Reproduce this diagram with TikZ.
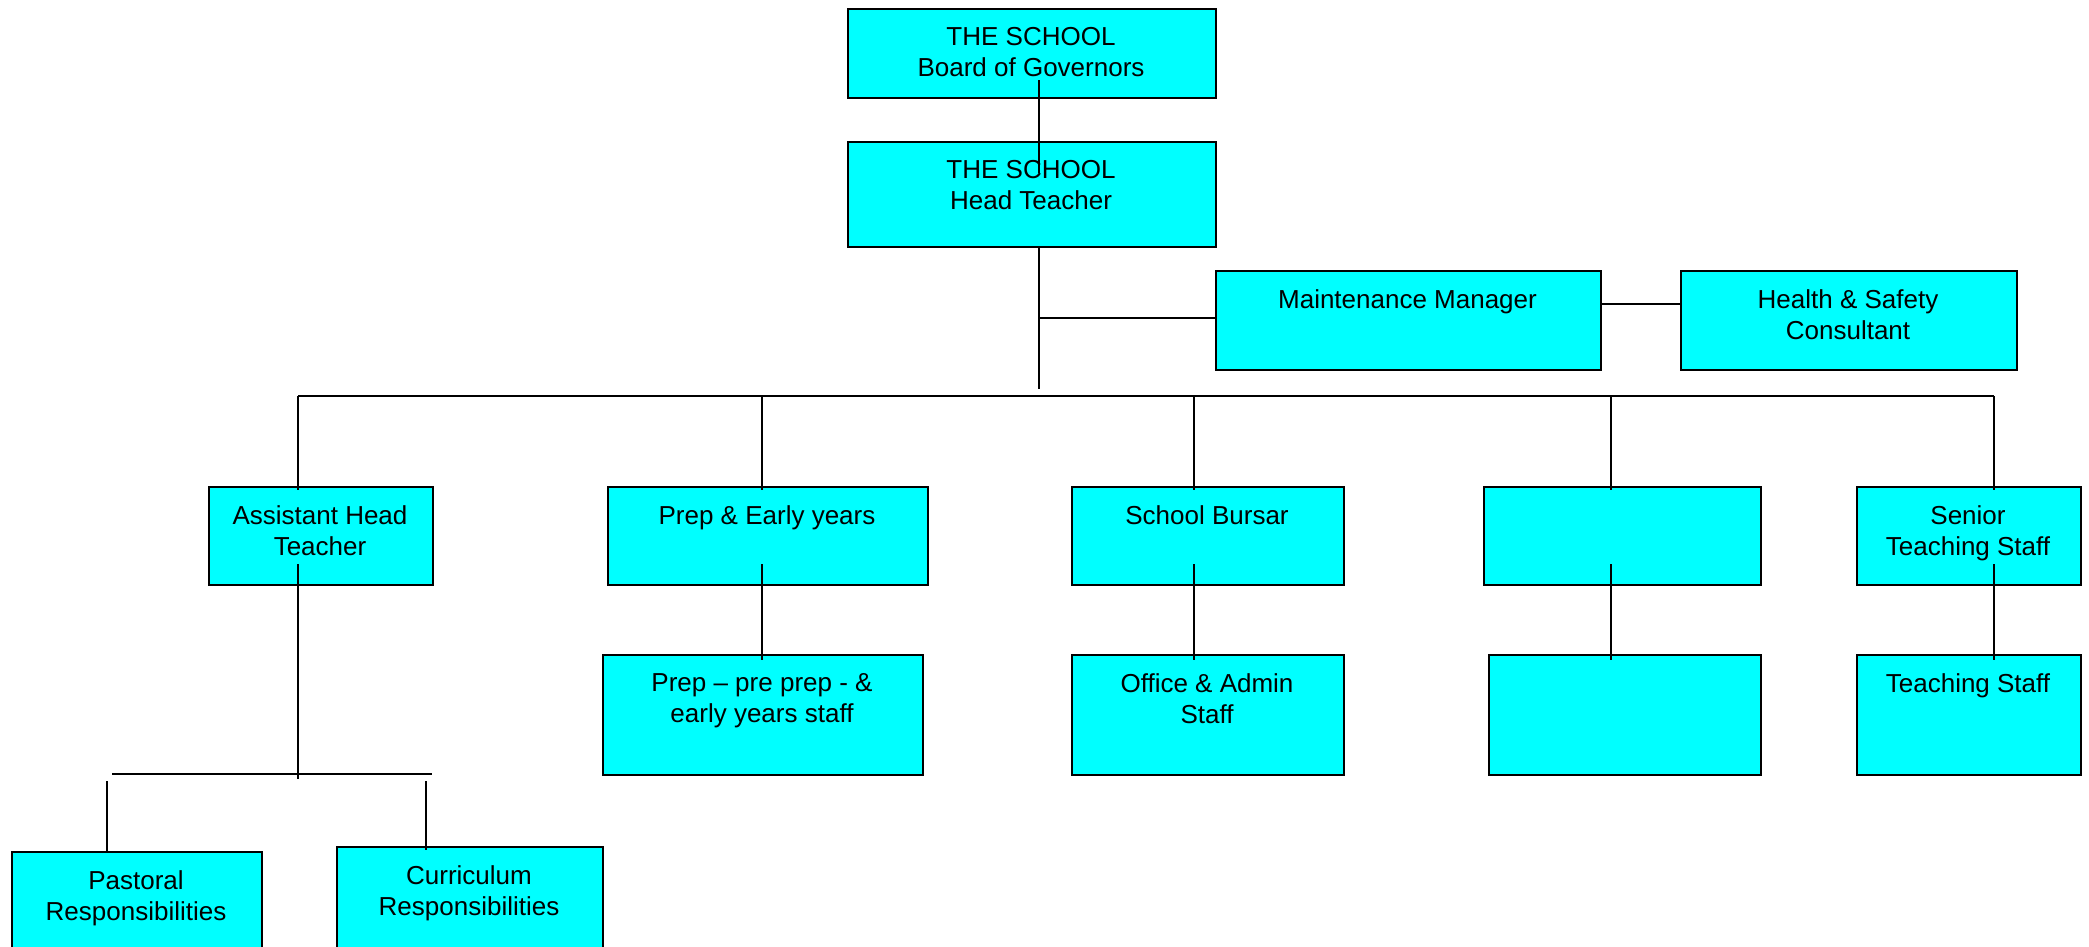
\documentclass[tikz,border=0pt]{standalone}
\usepackage{fontspec}
\setmainfont{Liberation Sans}
\definecolor{aqua}{RGB}{0,255,255}
\begin{document}
\begin{tikzpicture}[x=1pt,y=-1pt,
  box/.style={draw=black,fill=aqua,line width=1.8pt,inner sep=0pt,anchor=north west},
  lbl/.style={anchor=north,inner sep=0pt,align=center,font=\fontsize{26pt}{31pt}\selectfont},
  conn/.style={draw=black,line width=1.6pt}]
\fill[white] (0,0) rectangle (2089,946);
\useasboundingbox (0,0) rectangle (2089,946);
\begin{scope}
\clip (0,0) rectangle (2089,946);
% boxes: \mybox name x1 y1 x2 y2
\newcommand{\mybox}[6]{%
  \node[box,minimum width=#4-#2,minimum height=#5-#3] (#1) at (#2,#3) {};
  \node[lbl] (#1-t) at ({(#2+#4)/2},{#3+19.5}) {#6};}
\mybox{board}{847}{8}{1215}{97}{THE SCHOOL\\Board of Governors}
\mybox{head}{847}{141}{1215}{246}{THE SCHOOL\\Head Teacher}
\mybox{maint}{1215}{270}{1600}{369}{Maintenance Manager}
\mybox{hs}{1680}{270}{2016}{369}{Health \& Safety\\Consultant}
\mybox{ast}{208}{486}{432}{584}{Assistant Head\\Teacher}
\mybox{prep}{607}{486}{927}{584}{Prep \& Early years}
\mybox{bursar}{1071}{486}{1343}{584}{School Bursar}
\mybox{emptya}{1483}{486}{1760}{584}{}
\mybox{senior}{1856}{486}{2080}{584}{Senior\\Teaching Staff}
\mybox{prepstaff}{602}{654}{922}{774}{Prep – pre prep - \&\\early years staff}
\mybox{office}{1071}{654}{1343}{774}{Office \& Admin\\Staff}
\mybox{emptyb}{1488}{654}{1760}{774}{}
\mybox{teach}{1856}{654}{2080}{774}{Teaching Staff}
\mybox{past}{11}{851}{261}{980}{Pastoral\\Responsibilities}
\mybox{curr}{336}{846}{602}{980}{Curriculum\\Responsibilities}
\end{scope}
% connector coordinates
\coordinate (c1a) at (1039,80);  \coordinate (c1b) at (1039,173);
\coordinate (c2a) at (1039,246); \coordinate (c2b) at (1039,389);
\coordinate (c3a) at (1039,318); \coordinate (c3b) at (1215,318);
\coordinate (c4a) at (1600,304); \coordinate (c4b) at (1680,304);
\coordinate (hl) at (298,396);   \coordinate (hr) at (1994,396);
\draw[conn] (c1a) -- (c1b);
\draw[conn] (c2a) -- (c2b);
\draw[conn] (c3a) -- (c3b);
\draw[conn] (c4a) -- (c4b);
\draw[conn] (hl) -- (hr);
\foreach \nm/\xx in {ast/298,prep/762,bursar/1194,emptya/1611,senior/1994}{
  \coordinate (d-\nm) at (\xx,490);
  \draw[conn] (\xx,396) -- (d-\nm);
}
\foreach \nm/\xx in {prep/762,bursar/1194,emptya/1611,senior/1994}{
  \coordinate (u-\nm) at (\xx,564);
  \coordinate (v-\nm) at (\xx,660);
  \draw[conn] (u-\nm) -- (v-\nm);
}
\coordinate (a1) at (298,564); \coordinate (a2) at (298,779);
\draw[conn] (a1) -- (a2);
\coordinate (s1) at (112,774); \coordinate (s2) at (432,774);
\draw[conn] (s1) -- (s2);
\coordinate (p1) at (107,781); \coordinate (p2) at (107,853);
\draw[conn] (p1) -- (p2);
\coordinate (q1) at (426,781); \coordinate (q2) at (426,850);
\draw[conn] (q1) -- (q2);
\end{tikzpicture}
\end{document}
